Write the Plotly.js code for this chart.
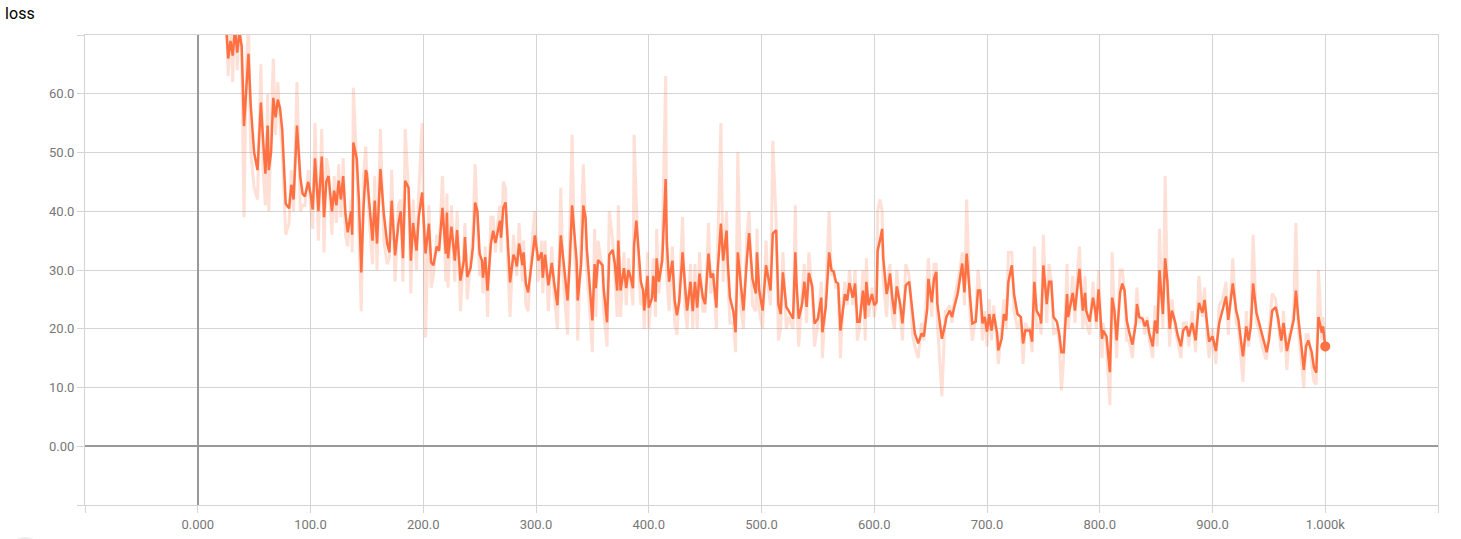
<!DOCTYPE html>
<html>
<head>
<meta charset="utf-8">
<script src="https://cdn.plot.ly/plotly-3.0.1.min.js"></script>
<style>
  html, body { margin: 0; padding: 0; background: #fff; }
  #chart { width: 1461px; height: 539px; }
</style>
</head>
<body>
<div id="chart"></div>
<script>
// Training steps (x values)
const steps = [
  25,27,29,31,33,35,37,39,41,43,45,47,50,53,56,58,60,62,63,65,67,69,71,73,75,78,81,83,85,88,91,93,95,98,100,102,104,107,110,112,114,116,119,121,123,125,127,
  129,131,133,136,137,138,141,143,145,147,149,150,152,155,157,159,162,165,168,170,172,175,178,180,182,184,187,189,191,194,196,199,202,205,207,209,212,214,217,220,221,222,225,228,230,233,236,237,239,242,244,246,248,250,
  252,253,255,257,260,262,264,266,268,269,271,273,275,277,280,282,283,285,288,289,291,293,297,299,302,305,306,308,311,314,316,319,322,324,328,330,332,334,336,337,340,342,344,345,347,350,352,353,355,359,360,363,365,368,370,372,373,
  375,378,380,382,384,386,387,389,391,393,395,396,399,400,403,404,406,407,409,412,415,416,418,421,423,425,427,430,432,434,437,439,441,443,445,448,450,453,455,457,460,461,464,466,469,470,472,475,477,479,482,484,487,489,492,495,496,498,
  501,504,506,508,510,513,515,517,519,522,524,528,530,531,533,536,538,540,542,545,547,550,553,554,557,560,562,564,566,568,570,572,574,576,578,581,583,585,587,590,592,593,595,598,600,602,603,605,607,608,611,613,614,616,618,620,
  623,625,628,631,634,636,639,642,644,647,648,651,653,655,656,660,663,664,667,669,671,674,676,678,680,682,685,687,690,692,694,696,698,700,702,704,706,709,710,713,715,717,719,722,724,727,730,732,734,736,738,740,742,744,
  747,748,750,753,755,757,759,762,764,766,768,771,772,776,778,780,782,785,787,788,791,794,796,797,799,802,803,806,809,811,813,815,818,820,822,824,826,829,832,833,835,838,840,842,844,847,849,851,853,856,858,860,862,864,867,869,
  872,874,877,879,882,885,888,891,893,895,897,900,903,906,909,912,914,918,921,923,926,927,930,932,934,936,939,941,944,947,948,950,953,956,958,961,963,966,968,970,972,974,976,979,981,983,985,988,990,992,994,997,998,1000
];

// Smoothed loss (dark orange line)
const smoothedLoss = [
  72,66,69,66.5,71,67,70.5,68,54.5,60,66.8,58,50,47,58.5,52,46.4,54.6,47,50,59.3,56,59,57.5,53.7,41.3,40.5,44.5,42,54.6,45.7,43,42.5,45,43,40.3,49,40,49.3,39,45,46,40,43.5,41,45.2,42,
  46,39.6,36.4,40,36,51.7,49,41.7,29.6,40.6,47,46.5,41.7,35,41.8,34.5,47.2,39.6,34.5,33,41.8,32.5,37.9,40,32,45.2,44,31.6,38,33.3,39,43.2,32.8,37.9,31.3,30.8,34,33.3,40.6,32.8,39.8,32,37.4,31.6,36.8,28.2,31.6,35.6,28.8,30.4,33.8,41.5,40,32.8,
  31.6,28.7,32.2,26.5,34.5,36.7,34.6,36.7,38.4,35.5,40.6,41.5,35.5,27.9,32.6,31.7,30.6,34.5,30.8,33,27.7,26.2,32.6,35.9,31.6,33,28.7,32.6,27.4,31.2,28,24,35.9,32.2,24.8,31.6,41,36.3,31.6,24.8,31,41,38.8,33.8,28.7,21.4,31,26.9,31.7,30.8,26.9,21.1,32.6,33.4,31,26.5,35,
  26.5,30.3,26.9,30,28.7,26.9,34.2,38.4,33,28,26.5,23.1,29,23.6,25.3,29,24.6,32,28,31.7,45.5,35,28,31.6,24.8,22.3,24.6,33,27.8,23.1,28,23,28,23.6,29.4,25.3,24.2,32.8,28.7,29.4,23.6,29.4,37.9,31.6,36.7,31.7,25.3,23,19.4,33,26.9,23.1,31.7,36.3,28.5,26,33,26.5,
  23.1,30.8,28.7,26.5,36.2,36.8,24.2,22.5,29.6,23.7,23.1,21.7,33,28,21.7,24.2,28,23.7,29.5,27.2,20.9,21.7,25.3,19.4,23.7,33,30,29.7,28,27.7,19.7,22.8,25.9,24.8,27.8,25.3,27.7,21.2,21.2,26.5,21.7,28,24,25.9,24,24.5,33.3,35,37,32,25.9,28,29.4,25.3,22.5,27.2,
  24.2,20.9,27.4,28,22,19.2,17.5,19.2,18.7,23.4,28.5,24.5,28.5,29.7,24.2,18.3,20.9,22,23.1,22,23.7,26,28.5,31.1,26.2,32.8,25.3,20.9,21.2,26.5,26.5,20.9,22,19.5,22.5,19.7,22.5,19.2,16.3,18.3,22.5,21.4,28,30.8,25.9,22.5,22,17.5,19.7,19.7,19.7,17.8,28,23.1,
  22,20.9,30.8,24.2,28,28,22,21.2,19.2,16,16,25.9,22,26.1,23.1,26.7,30.2,23.1,26.1,23.1,21.2,25.3,23.1,21.2,26.7,18.3,19.7,18.7,12.6,25.3,23.1,18,26.1,27.7,26.5,21.4,19.5,17.3,20.9,24.2,22,21.7,20.4,21.4,19.2,17,21.4,19.2,30,22.5,32,28,20,23.1,21,19,
  17,19.7,20.4,18.7,21,18,24.4,22.7,24.9,21.2,17.8,18.7,16.2,21,23.1,25.5,21.5,27.7,23.1,21.5,16.8,15.3,20.4,18,20.4,27.7,22.7,21,19,16.8,16,18,23.1,23.7,22,18,21,16.2,18,19.3,21.5,26.5,22,16.8,13,17,18,16,13.4,12.5,22,19.3,20.4,17
];

// Raw loss (faint line)
const rawLoss = [
  76,63,73,62,76,64,74,66,39,64,72,50,44,42,65,47,41,60,40,53,66,53,62,55,50,36,38,47,40,62,40,41,41,47,41,37,55,35,54,33,49,47,36,46,38,48,39,
  49,36,34,42,33,61,48,37,23,46,51,46,39,31,46,30,54,35,31,32,47,28,41,42,28,54,43,26,42,30,43,55,18.5,41,27,29,36,33,46,28,43,27,41,28,40,23,34,38,25,31,36,48,39,29,
  30,26,34,22,39,39,33,38,41,33,45,44,31,22,36,30,29,38,28,35,24,23,36,40,28,35,26,35,23,34,26,20,44,29,19,37,53,33,28,18,35,48,37,30,25,16,37,22,35,30,23,17,40,35,29,22,41,
  22,33,24,32,28,24,53,40,30,24,25,20,33,20,27,32,22,37,26,34,63,29,23,34,21,19,26,39,24,20,31,20,31,20,33,23,23,38,26,30,20,33,55,28,40,29,21,21,16,50,23,20,36,40,24,23,37,23,
  20,35,27,24,52,38,18,20,33,20,22,20,41,26,17,26,31,21,33,26,17,21,28,15,26,40,29,30,27,27,15,24,28,24,30,24,30,18,20,30,18,32,22,27,22,25,40,42,40,28,22,30,31,22,20,30,
  22,18,31,29,19,17,15,21,18,27,32,22,31,31,21,8.5,23,23,24,21,25,28,30,33,24,42,22,18,22,30,26,18,23,17,25,18,24,17,14,20,25,20,33,33,23,20,22,14,21,20,20,16,34,20,
  21,19,36,21,31,28,19,20,18,9.5,15,31,20,29,21,29,34,20,29,21,19,28,22,20,30,15,21,17,7,33,22,15,30,30,26,18,18,15,23,27,21,22,19,22,18,15,24,17,37,20,46,26,17,25,20,18,
  15,21,21,17,23,16,29,22,27,19,15,20,14,24,25,28,19,32,21,20,13,11,23,17,22,36,21,20,17,15,15,20,26,25,21,16,23,13,19,20,23,38,20,14,10,19,19,14,11,10.5,30,18,22,16
];

// Axis ticks
const xTickVals = [-100,0,100,200,300,400,500,600,700,800,900,1000,1100];
const xTickText = ['','0.000','100.0','200.0','300.0','400.0','500.0','600.0','700.0','800.0','900.0','1.000k',''];
const yTickVals = [-10,0,10,20,30,40,50,60,70];
const yTickText = ['','0.00','10.0','20.0','30.0','40.0','50.0','60.0',''];

const ORANGE = '#FF7043';
const last = steps.length - 1;

const traces = [
  {
    x: steps, y: rawLoss, type: 'scatter', mode: 'lines',
    line: { color: 'rgba(255,112,67,0.22)', width: 3 },
    hoverinfo: 'skip', showlegend: false
  },
  {
    x: steps, y: smoothedLoss, type: 'scatter', mode: 'lines',
    line: { color: ORANGE, width: 2.5 },
    showlegend: false
  },
  {
    x: [steps[last]], y: [smoothedLoss[last]], type: 'scatter', mode: 'markers',
    marker: { color: ORANGE, size: 10 },
    showlegend: false, cliponaxis: false
  }
];

const axisCommon = {
  showgrid: true, gridcolor: '#d4d4d4', gridwidth: 1,
  zeroline: true, zerolinecolor: '#999999', zerolinewidth: 2,
  showline: true, mirror: true, linecolor: '#d4d4d4', linewidth: 1,
  ticks: 'outside', ticklen: 7, tickcolor: '#d4d4d4', tickwidth: 1,
  tickmode: 'array',
  tickfont: { family: 'Roboto, sans-serif', size: 13, color: '#777777' },
  fixedrange: true
};

const layout = {
  width: 1461, height: 539,
  margin: { l: 85, r: 23, t: 35, b: 34 },
  paper_bgcolor: '#ffffff', plot_bgcolor: '#ffffff',
  title: {
    text: 'loss', x: 0.0035, xref: 'container', xanchor: 'left',
    y: 0.975, yref: 'container', yanchor: 'middle',
    font: { family: 'Roboto, sans-serif', size: 16, color: '#000000' }
  },
  xaxis: Object.assign({}, axisCommon, {
    range: [-100, 1100], tickvals: xTickVals, ticktext: xTickText
  }),
  yaxis: Object.assign({}, axisCommon, {
    range: [-10, 70], tickvals: yTickVals, ticktext: yTickText
  }),
  shapes: [
    { type: 'circle', xref: 'paper', yref: 'paper', layer: 'below',
      x0: (7 - 85) / 1353, x1: (43 - 85) / 1353,
      y0: (505 - 573) / 470, y1: (505 - 537) / 470,
      fillcolor: '#eeeeee', line: { width: 0 } }
  ],
  showlegend: false
};

Plotly.newPlot('chart', traces, layout, { displayModeBar: false, staticPlot: true });
</script>
</body>
</html>
